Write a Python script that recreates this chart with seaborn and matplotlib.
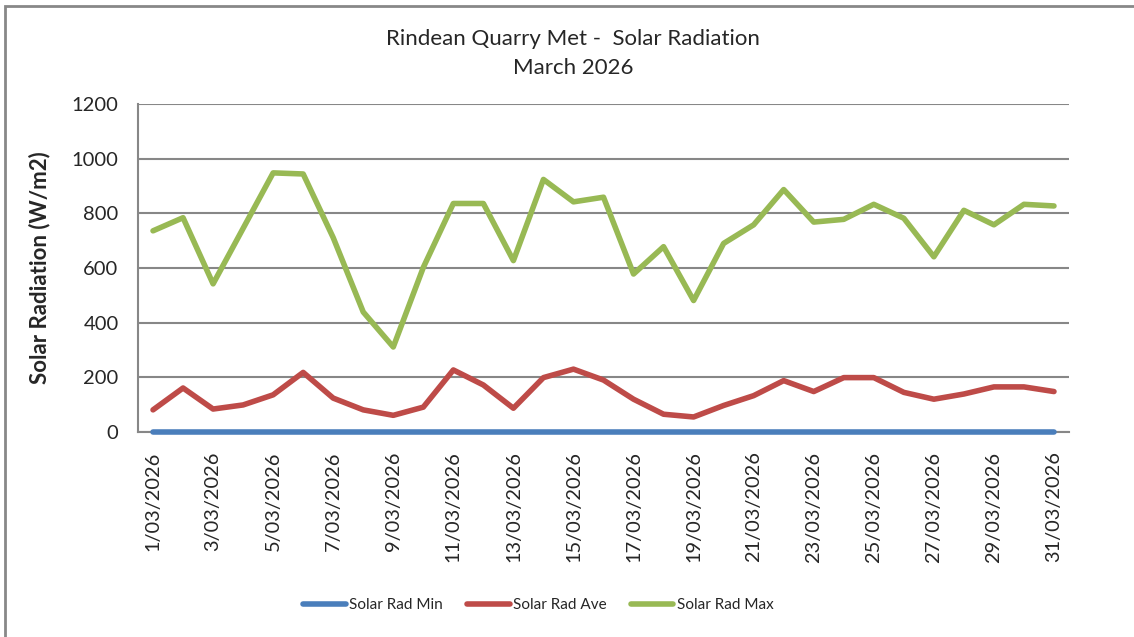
import pandas as pd
import matplotlib.pyplot as plt
import seaborn as sns
from matplotlib.patches import Rectangle

# --- Data ---
days = list(range(1, 32))
date_labels = [f"{d}/03/2026" for d in days]

solar_min = [0] * 31
solar_ave = [81, 161, 84, 99, 136, 218, 124, 81, 61, 91, 227, 172, 87, 199, 230, 190,
             120, 65, 55, 97, 133, 188, 148, 199, 199, 145, 120, 139, 165, 165, 148]
solar_max = [736, 784, 542, 745, 948, 944, 711, 439, 311, 602, 836, 836, 627, 924, 842, 859,
             578, 678, 481, 690, 758, 887, 768, 778, 833, 782, 641, 811, 758, 833, 827]

series_names = ["Solar Rad Min", "Solar Rad Ave", "Solar Rad Max"]
series_colors = ["#4A7EBB", "#BE4B48", "#98B954"]

# long-form table for seaborn
df = pd.DataFrame({
    "idx": list(range(31)) * 3,
    "value": solar_min + solar_ave + solar_max,
    "series": [series_names[0]] * 31 + [series_names[1]] * 31 + [series_names[2]] * 31,
})

# --- Style ---
sns.set_style("white")
plt.rcParams['font.family'] = ['Lato', 'DejaVu Sans']

fig = plt.figure(figsize=(11.34, 6.37), dpi=100)
ax = fig.add_axes([138 / 1134, 1 - 432 / 637, 931 / 1134, 328 / 637])

sns.lineplot(data=df, x="idx", y="value", hue="series", hue_order=series_names,
             palette=dict(zip(series_names, series_colors)), linewidth=4,
             ax=ax, legend=False, zorder=3)
for ln in ax.lines:
    ln.set_clip_on(False)  # keep the Min line visible on the x axis

grid_col = "#878787"
ax.set_xlim(-0.5, 30.5)
ax.set_ylim(0, 1200)
ax.set_yticks(range(0, 1201, 200))
ax.yaxis.grid(True, color=grid_col, linewidth=1.5)
ax.set_axisbelow(True)

# category labels at every other day, tick marks between categories
ax.set_xticks(range(0, 31, 2))
ax.set_xticklabels(date_labels[::2], rotation=90, fontsize=14.4)
ax.set_xticks([i - 0.5 for i in range(0, 31, 2)], minor=True)
ax.tick_params(axis='x', which='major', length=0, pad=14)
ax.tick_params(axis='x', which='minor', length=6, width=1.5, color=grid_col, direction='out')
ax.tick_params(axis='y', length=6, width=1.5, color=grid_col, direction='out', labelsize=14.5, pad=8)

for s in ["top", "right"]:
    ax.spines[s].set_visible(False)
for s in ["left", "bottom"]:
    ax.spines[s].set_color(grid_col)
    ax.spines[s].set_linewidth(1.5)

ax.set_xlabel("")
ax.set_ylabel("Solar Radiation (W/m2)", fontsize=16, fontweight="bold")
ax.yaxis.set_label_coords(-88 / 931, 0.5)

fig.text(573 / 1134, 1 - 39 / 637, "Rindean Quarry Met -  Solar Radiation",
         ha="center", va="center", fontsize=16)
fig.text(573 / 1134, 1 - 68 / 637, "March 2026", ha="center", va="center", fontsize=16)

# legend
handles = [plt.Line2D([], [], color=c, linewidth=4) for c in series_colors]
fig.legend(handles, series_names, loc="center", bbox_to_anchor=(538 / 1134, 1 - 605 / 637),
           ncol=3, frameon=False, fontsize=11, handlelength=2.8, handletextpad=0.2,
           columnspacing=1.6)

# outer chart border (only top and left visible in the crop)
fig.add_artist(Rectangle((5 / 1134, -0.1), 1.2, 1.1 - 6 / 637, transform=fig.transFigure,
                         fill=False, edgecolor="#888888", linewidth=2, clip_on=False))

plt.savefig("out.png", dpi=100)
